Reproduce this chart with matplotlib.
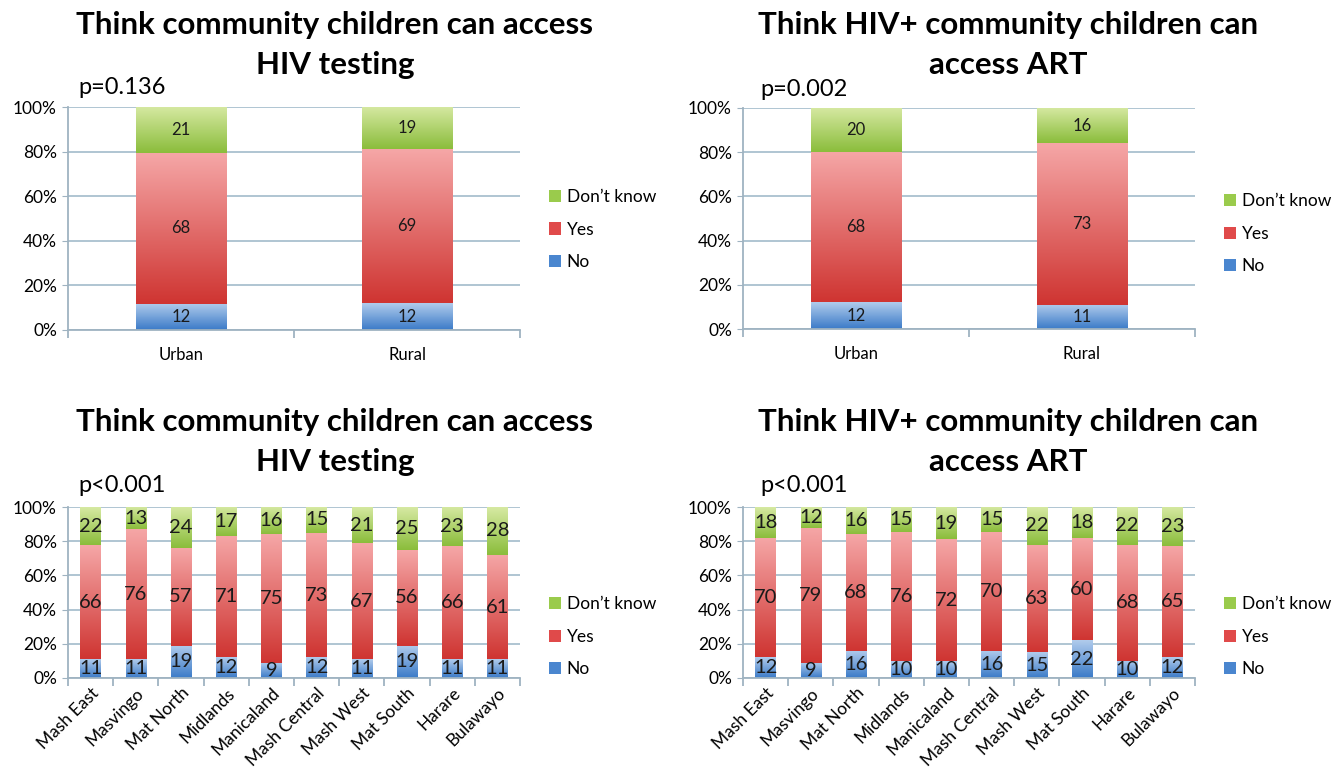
import numpy as np
import matplotlib.pyplot as plt
from matplotlib.colors import LinearSegmentedColormap
from matplotlib.patches import Patch

plt.rcParams['font.family'] = ['Lato', 'DejaVu Sans']

# ---- data ----
area = ["Urban", "Rural"]
test_area_no = [12, 12]
test_area_yes = [68, 69]
test_area_dk = [21, 19]
art_area_no = [12, 11]
art_area_yes = [68, 73]
art_area_dk = [20, 16]

provinces = ["Mash East", "Masvingo", "Mat North", "Midlands", "Manicaland",
             "Mash Central", "Mash West", "Mat South", "Harare", "Bulawayo"]
test_prov_no = [11, 11, 19, 12, 9, 12, 11, 19, 11, 11]
test_prov_yes = [66, 76, 57, 71, 75, 73, 67, 56, 66, 61]
test_prov_dk = [22, 13, 24, 17, 16, 15, 21, 25, 23, 28]
art_prov_no = [12, 9, 16, 10, 10, 16, 15, 22, 10, 12]
art_prov_yes = [70, 79, 68, 76, 72, 70, 63, 60, 68, 65]
art_prov_dk = [18, 12, 16, 15, 19, 15, 22, 18, 22, 23]

title_test = "Think community children can access\nHIV testing"
title_art = "Think HIV+ community children can\naccess ART"

# gradient colours (top, bottom) per series
grad = {
    "No": ("#b0cbec", "#3b7bc8"),
    "Yes": ("#f5a6a6", "#cf3532"),
    "Don\u2019t know": ("#d6e9a2", "#8bbd3c"),
}
legend_col = {"No": "#4a86cf", "Yes": "#e04a4a", "Don\u2019t know": "#9acb4c"}

W, H = 1334, 771
fig = plt.figure(figsize=(W / 100, H / 100), dpi=100)


def px_axes(x0, y0, x1, y1):
    return fig.add_axes([x0 / W, 1 - y1 / H, (x1 - x0) / W, (y1 - y0) / H])


def panel(ax, cats, no, yes, dk, width, vfs, rotate, leg_y):
    n = len(cats)
    x = np.arange(n)
    data = np.array([no, yes, dk], dtype=float)
    pct = data / data.sum(axis=0) * 100
    bottom = np.zeros(n)
    for i, name in enumerate(["No", "Yes", "Don\u2019t know"]):
        bars = ax.bar(x, pct[i], width, bottom=bottom, color='none', zorder=2)
        cmap = LinearSegmentedColormap.from_list(name, [grad[name][1], grad[name][0]])
        g = np.linspace(0, 1, 64).reshape(-1, 1)
        for b, v, raw in zip(bars, pct[i], data[i]):
            x0, y0 = b.get_x(), b.get_y()
            ax.imshow(g, cmap=cmap, extent=[x0, x0 + b.get_width(), y0, y0 + v],
                      origin='lower', aspect='auto', zorder=2, interpolation='bilinear')
            ax.text(b.get_x() + b.get_width() / 2, y0 + v / 2, f"{int(raw)}",
                    ha='center', va='center', fontsize=vfs, color='#1a1a1a', zorder=3)
        bottom = bottom + pct[i]
    ax.set_xlim(-0.5, n - 0.5)
    ax.set_ylim(0, 100)

    ax.set_yticks(np.arange(0, 101, 20))
    ax.set_yticklabels([f"{v}%" for v in range(0, 101, 20)], fontsize=12.5)
    ax.yaxis.grid(True, color='#a9c0cf', lw=1.3)
    ax.set_axisbelow(True)
    for s in ['top', 'right']:
        ax.spines[s].set_visible(False)
    for s in ['left', 'bottom']:
        ax.spines[s].set_color('#9fb3c1')
        ax.spines[s].set_linewidth(1.3)
    ax.tick_params(axis='y', length=4, color='#9fb3c1', pad=4)
    ax.set_xticks(x)
    if rotate:
        ax.set_xticklabels(cats, rotation=45, ha='right', rotation_mode='anchor', fontsize=12.5)
        ax.tick_params(axis='x', which='major', length=0, pad=5)
    else:
        ax.set_xticklabels(cats, fontsize=12)
        ax.tick_params(axis='x', which='major', length=0, pad=12)
    ax.set_xticks(np.arange(-0.5, n, 1.0), minor=True)
    ax.tick_params(axis='x', which='minor', length=6, color='#9fb3c1', width=1.3)

    handles = [Patch(facecolor=legend_col[k], edgecolor='none')
               for k in ["Don\u2019t know", "Yes", "No"]]
    ax.legend(handles, ["Don\u2019t know", "Yes", "No"], loc='center left',
              bbox_to_anchor=(1.03, leg_y), frameon=False, fontsize=12.5,
              handlelength=0.7, handleheight=0.7, handletextpad=0.3, labelspacing=0.95)


ax1 = px_axes(68, 107, 520, 330)
panel(ax1, area, test_area_no, test_area_yes, test_area_dk, 0.4, 12, False, 0.45)
ax2 = px_axes(743, 108, 1195, 329)
panel(ax2, area, art_area_no, art_area_yes, art_area_dk, 0.4, 12, False, 0.43)
ax3 = px_axes(68, 507, 520, 678)
panel(ax3, provinces, test_prov_no, test_prov_yes, test_prov_dk, 0.45, 14.5, True, 0.24)
ax4 = px_axes(743, 507, 1195, 678)
panel(ax4, provinces, art_prov_no, art_prov_yes, art_prov_dk, 0.45, 14.5, True, 0.24)

tkw = dict(ha='center', va='center', fontsize=22.5, fontweight='bold', linespacing=1.55)
fig.text(335 / W, 1 - 45 / H, title_test, **tkw)
fig.text(1008 / W, 1 - 45 / H, title_art, **tkw)
fig.text(335 / W, 1 - 442 / H, title_test, **tkw)
fig.text(1008 / W, 1 - 442 / H, title_art, **tkw)

pkw = dict(ha='left', va='center', fontsize=17)
fig.text(78 / W, 1 - 88 / H, "p=0.136", **pkw)
fig.text(760 / W, 1 - 89 / H, "p=0.002", **pkw)
fig.text(78 / W, 1 - 485 / H, "p<0.001", **pkw)
fig.text(760 / W, 1 - 485 / H, "p<0.001", **pkw)

fig.savefig("out.png", dpi=100)
